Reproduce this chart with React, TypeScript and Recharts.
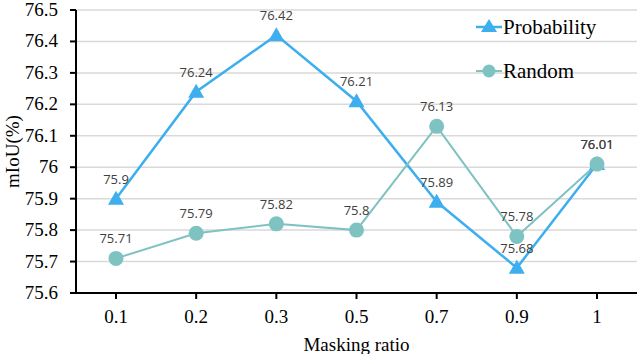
import React from 'react';
import {
  LineChart,
  Line,
  XAxis,
  YAxis,
  CartesianGrid,
  LabelList,
} from 'recharts';

const ratios = ['0.1', '0.2', '0.3', '0.5', '0.7', '0.9', '1'];
const probability = [75.9, 76.24, 76.42, 76.21, 75.89, 75.68, 76.01];
const random = [75.71, 75.79, 75.82, 75.8, 76.13, 75.78, 76.01];
const yTicks = [75.6, 75.7, 75.8, 75.9, 76, 76.1, 76.2, 76.3, 76.4, 76.5];

const BLUE = '#3daeee';
const TEAL = '#7fc2c2';
const SERIF = '"Liberation Serif", "Times New Roman", serif';
const LABEL_FONT = '"Open Sans", sans-serif';

const chartData = ratios.map((r, i) => ({
  ratio: r,
  probability: probability[i],
  random: random[i],
}));

const Triangle = (props: any) => {
  const { cx, cy } = props;
  if (cx == null || cy == null) return null;
  return (
    <path
      d={`M${cx},${cy - 8} L${cx + 8},${cy + 6} L${cx - 8},${cy + 6} Z`}
      fill={BLUE}
    />
  );
};

const Circle = (props: any) => {
  const { cx, cy } = props;
  if (cx == null || cy == null) return null;
  return <circle cx={cx} cy={cy} r={7.5} fill={TEAL} />;
};

const XTick = ({ x, y, payload }: any) => (
  <text x={x} y={y + 18} textAnchor="middle" style={{ fontFamily: SERIF, fontSize: 19 }} fill="#000">
    {payload.value}
  </text>
);

// y ticks: right edge of text sits ~18px left of the axis line
const YTick = ({ y, payload }: any) => (
  <text x={58} y={y + 6} textAnchor="end" style={{ fontFamily: SERIF, fontSize: 19 }} fill="#000">
    {payload.value}
  </text>
);

// legend drawn as an overlay so it doesn't eat into the plot area
const LegendBox = () => (
  <svg width={140} height={80} style={{ position: 'absolute', left: 474, top: 8 }}>
    <line x1={2} y1={19} x2={28} y2={19} stroke={BLUE} strokeWidth={2.5} />
    <path d="M15,11 L23,24 L7,24 Z" fill={BLUE} />
    <text x={29} y={26} fontFamily={SERIF} fontSize={21} fill="#000">
      Probability
    </text>
    <line x1={2} y1={63} x2={28} y2={63} stroke={TEAL} strokeWidth={2} />
    <circle cx={15} cy={63} r={6.5} fill={TEAL} />
    <text x={29} y={70} fontFamily={SERIF} fontSize={21} fill="#000">
      Random
    </text>
  </svg>
);

const axisLabelStyle = { fill: '#000', fontSize: 19, fontFamily: SERIF };
const labelStyle = { fill: '#404040', fontSize: 13, fontFamily: LABEL_FONT };

export default function App() {
  return (
    <div
      style={{
        position: 'absolute',
        left: 0,
        top: 0,
        width: 640,
        height: 354,
        background: '#fff',
        fontFamily: SERIF,
      }}
    >
      <LineChart
        width={640}
        height={354}
        data={chartData}
        margin={{ top: 10, right: 3, left: 0, bottom: 0 }}
      >
        <CartesianGrid vertical={false} stroke="#d9d9d9" strokeWidth={1.5} />
        <XAxis
          dataKey="ratio"
          height={61}
          padding={{ left: 40, right: 40 }}
          tick={<XTick />}
          tickMargin={6}
          tickSize={6}
          stroke="#000"
          strokeWidth={2}
          label={{ value: 'Masking ratio', position: 'insideBottom', offset: 3, style: axisLabelStyle }}
        />
        <YAxis
          width={76}
          domain={[75.6, 76.5]}
          ticks={yTicks}
          interval={0}
          tick={<YTick />}
          tickSize={6}
          tickMargin={6}
          stroke="#000"
          strokeWidth={2}
          label={{ value: 'mIoU(%)', angle: -90, position: 'insideLeft', offset: 12, style: { ...axisLabelStyle, textAnchor: 'middle' } }}
        />
        <Line
          dataKey="probability"
          stroke={BLUE}
          strokeWidth={2.5}
          dot={<Triangle />}
          activeDot={false}
          isAnimationActive={false}
        >
          <LabelList dataKey="probability" position="top" offset={15} style={labelStyle} />
        </Line>
        <Line
          dataKey="random"
          stroke={TEAL}
          strokeWidth={2}
          dot={<Circle />}
          activeDot={false}
          isAnimationActive={false}
        >
          <LabelList dataKey="random" position="top" offset={15} style={labelStyle} />
        </Line>
      </LineChart>
      <LegendBox />
    </div>
  );
}
